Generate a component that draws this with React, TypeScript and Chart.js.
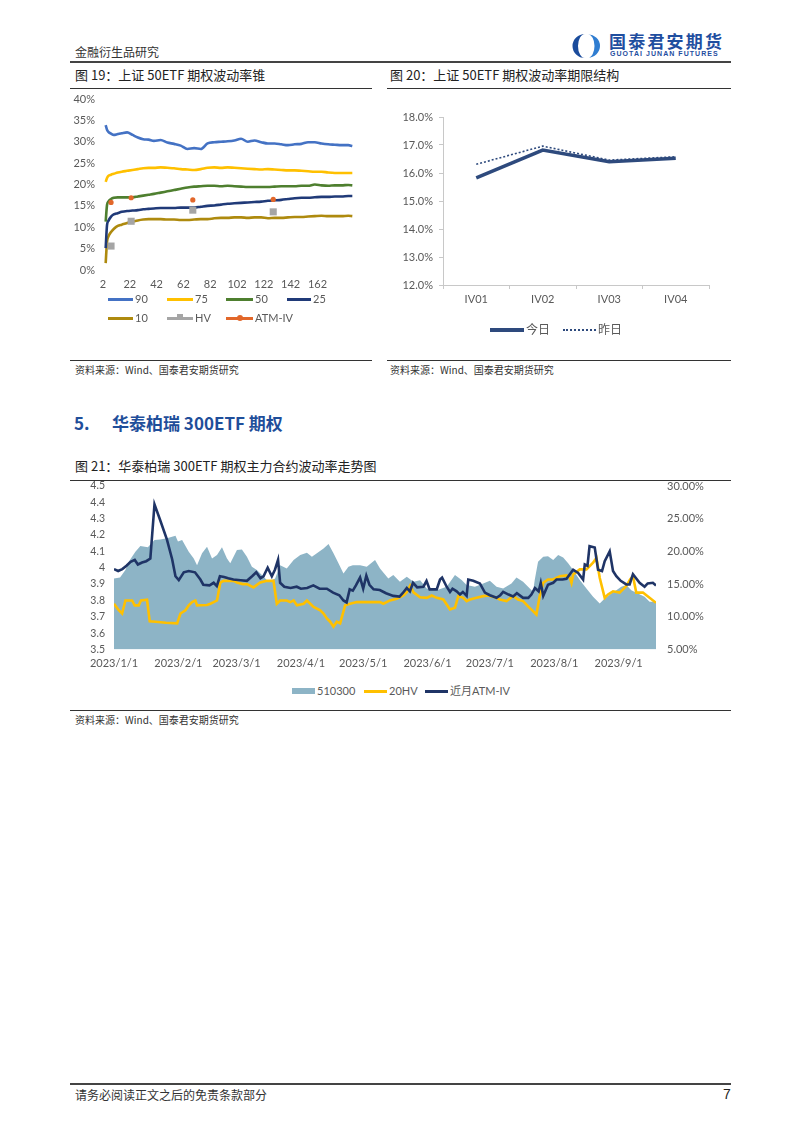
import React, { useEffect, useRef } from 'react';
import { Chart, registerables } from 'chart.js';

Chart.register(...registerables);

const CJK = '"Noto Sans CJK SC", "Noto Sans", sans-serif';
const TICK_FONT = 'Lato, "Noto Sans CJK SC", sans-serif';
const TICK_COLOR = '#595959';

// ---------- Figure 19: volatility cone ----------
const coneTicks = [2, 22, 42, 62, 82, 102, 122, 142, 162];
const coneDays = [4, 5, 6, 8, 10, 13, 16, 20, 24, 28, 32, 36, 40, 45, 50, 55, 60, 65, 70, 75, 80, 85, 90, 95, 100, 105, 110, 115, 120, 125, 130, 135, 140, 145, 150, 155, 160, 165, 170, 175, 180, 185, 188];
const cone90 = [33.9, 32.8, 32.3, 31.9, 31.6, 31.8, 32.0, 32.2, 31.6, 31.0, 30.6, 30.5, 30.2, 30.4, 29.8, 29.5, 29.1, 28.3, 28.5, 28.3, 29.6, 29.9, 30.0, 30.1, 30.3, 30.7, 30.0, 30.3, 29.9, 29.6, 29.6, 29.4, 29.2, 29.4, 29.5, 29.9, 29.9, 29.6, 29.4, 29.3, 29.2, 29.2, 29.0];
const cone75 = [20.6, 21.5, 22.0, 22.3, 22.5, 22.8, 23.0, 23.2, 23.4, 23.6, 23.8, 23.9, 23.9, 24.0, 23.9, 23.8, 23.6, 23.5, 23.4, 23.6, 23.9, 24.0, 23.9, 24.0, 23.9, 23.8, 23.7, 23.6, 23.5, 23.6, 23.5, 23.4, 23.3, 23.3, 23.2, 23.1, 23.0, 23.0, 22.8, 22.7, 22.7, 22.7, 22.7];
const cone50 = [11.3, 15.2, 16.0, 16.6, 16.9, 17.0, 17.0, 17.0, 17.0, 17.2, 17.4, 17.6, 17.8, 18.1, 18.4, 18.7, 19.0, 19.3, 19.5, 19.6, 19.7, 19.7, 19.6, 19.7, 19.6, 19.5, 19.4, 19.4, 19.4, 19.4, 19.5, 19.6, 19.6, 19.6, 19.7, 19.7, 20.0, 19.8, 19.7, 19.8, 19.8, 19.9, 19.8];
const cone25 = [5.1, 10.5, 11.5, 12.5, 13.0, 13.3, 13.6, 13.8, 13.9, 14.0, 14.2, 14.3, 14.4, 14.5, 14.5, 14.5, 14.6, 14.6, 14.6, 14.8, 15.0, 15.1, 15.3, 15.5, 15.6, 15.7, 15.8, 15.9, 16.0, 16.2, 16.3, 16.4, 16.6, 16.8, 16.9, 16.9, 17.0, 17.1, 17.1, 17.2, 17.2, 17.3, 17.3];
const cone10 = [1.6, 6.6, 7.8, 8.9, 9.6, 10.3, 10.6, 11.0, 11.3, 11.6, 11.8, 11.9, 11.9, 11.9, 11.8, 11.8, 11.7, 11.7, 11.8, 11.9, 11.9, 12.1, 12.2, 12.2, 12.3, 12.3, 12.2, 12.3, 12.3, 12.1, 12.2, 12.2, 12.3, 12.4, 12.4, 12.5, 12.6, 12.7, 12.6, 12.6, 12.6, 12.7, 12.6];
const markDays = [8, 23, 69, 129];
const hvMarks = [5.6, 11.4, 14.0, 13.6];
const atmMarks = [15.8, 16.9, 16.4, 16.5];

// ---------- Figure 20: term structure ----------
const termLabels = ['IV01', 'IV02', 'IV03', 'IV04'];
const termToday = [15.83, 16.82, 16.4, 16.53];
const termYesterday = [16.31, 16.96, 16.46, 16.58];

// ---------- Figure 21: 300ETF volatility trend ----------
const monthTickDays = [0, 31, 59, 90, 120, 151, 181, 212, 243];
const monthTickLabels = ['2023/1/1', '2023/2/1', '2023/3/1', '2023/4/1', '2023/5/1', '2023/6/1', '2023/7/1', '2023/8/1', '2023/9/1'];

const priceDays = [
  0, 2.9, 5.5, 7.1, 10.3, 12.7, 16.3, 19.5, 22.3, 25.5,
  29.6, 30.8, 32.8, 36, 38.4, 40, 42.4, 44.8, 47.2, 49.6,
  52, 54.4, 56, 59.2, 61.6, 64, 66.4, 68.8, 71.2, 74.4,
  77.6, 80, 83.2, 86.5, 89.7, 92.9, 95.3, 97.7, 100.9, 103.3,
  105.7, 108.1, 110.5, 112.9, 115, 118.5, 121.7, 125.7, 128.1, 132.1,
  134.5, 137.7, 141, 144.2, 147.4, 150.6, 155.4, 160.2, 164.2, 167.4,
  169.8, 173.8, 177.8, 181, 184.2, 187.4, 191.4, 193.8, 197, 199.4,
  201.8, 202.6, 204.2, 206.7, 209, 211.5, 213.9, 216.3, 218.7, 221.1,
  224.3, 227.5, 230.7, 233.9, 236.3, 239.5, 241.9, 244.3, 246.7, 249.1,
  252.3, 255.5, 257.9, 261,
];
const priceVals = [
  3.935, 3.94, 3.986, 4.037, 4.098, 4.133, 4.125, 4.169, 4.173, 4.18,
  4.196, 4.16, 4.17, 4.098, 4.057, 4.016, 4.088, 4.129, 4.057, 4.078,
  4.125, 4.057, 4.027, 4.108, 4.112, 4.067, 4.006, 3.986, 3.955, 3.914,
  3.935, 4.016, 3.996, 4.047, 4.078, 4.092, 4.067, 4.088, 4.118, 4.145,
  4.088, 4.027, 3.965, 4.006, 4.016, 4.016, 4.006, 4.047, 3.996, 3.935,
  3.955, 3.914, 3.945, 3.914, 3.924, 3.873, 3.863, 3.884, 3.955, 3.925,
  3.894, 3.884, 3.904, 3.92, 3.884, 3.873, 3.904, 3.94, 3.914, 3.884,
  3.853, 3.925, 4.037, 4.067, 4.071, 4.047, 4.078, 4.063, 4.027, 3.986,
  3.925, 3.873, 3.822, 3.781, 3.812, 3.843, 3.863, 3.884, 3.894, 3.863,
  3.843, 3.822, 3.792, 3.792,
];

const hv20Days = [
  0, 2.3, 3.9, 5.5, 8.7, 10, 11.9, 13, 15.9, 17.2,
  20, 25, 30.4, 32, 34.4, 36, 37.6, 39.2, 40, 44.8,
  46.4, 48, 49.6, 51.2, 52.8, 57.6, 59.2, 62, 64, 67.2,
  70.4, 73.6, 76.8, 78.4, 80, 83.2, 84.9, 86.5, 88.1, 91.3,
  92.9, 96.1, 99.3, 100.9, 102.5, 104.1, 105.7, 107.3, 108.9, 111.3,
  113.7, 116.9, 122, 128.1, 129.7, 132.9, 136.1, 139.4, 141, 142.6,
  144.2, 147.4, 150.6, 153, 155.4, 158.6, 161.8, 164.2, 165.8, 168.2,
  169.8, 171.4, 174.6, 177.8, 180.2, 183.4, 185.8, 189, 192.2, 194.6,
  197, 199.4, 201.8, 203.4, 205, 206.7, 209, 211.5, 214.7, 217.9,
  219.5, 220.3, 221.1, 224.3, 227.5, 230.7, 232.3, 233.9, 236.3, 237.9,
  240.3, 243.5, 246.7, 248.5, 249.9, 251.5, 254.7, 257.9, 261,
];
const hv20Vals = [
  12.0, 11.0, 10.5, 12.5, 12.5, 11.75, 11.75, 12.5, 12.6, 9.3,
  9.25, 9.1, 9.0, 10.5, 11.0, 11.75, 12.25, 12.5, 11.75, 11.8,
  12.0, 12.25, 12.5, 15.25, 15.5, 15.5, 15.25, 15.0, 15.0, 14.5,
  15.25, 15.5, 15.5, 12.0, 12.5, 12.5, 12.25, 12.5, 11.75, 12.0,
  12.5, 11.5, 11.0, 10.5, 9.75, 9.25, 8.5, 9.25, 9.0, 11.75,
  12.0, 12.25, 12.25, 12.25, 12.0, 12.5, 12.75, 13.25, 13.75, 14.75,
  13.75, 13.0, 12.9, 13.26, 12.9, 12.65, 11.12, 11.4, 13.16, 12.9,
  12.4, 12.65, 12.9, 13.16, 13.26, 13.0, 12.65, 12.4, 13.16, 12.65,
  12.4, 11.6, 10.87, 10.36, 13.16, 15.2, 15.7, 15.7, 16.2, 16.33,
  15.97, 15.2, 16.48, 17.25, 17.25, 18.27, 19.0, 15.97, 12.9, 13.42,
  13.9, 13.7, 14.7, 15.7, 16.2, 13.7, 13.7, 12.9, 12.14,
];

const ivDays = [
  0, 2, 4, 6, 8, 10, 11.5, 13.5, 15.5, 17.5,
  19.5, 22, 25.5, 28, 29.6, 31.2, 33.6, 36, 39, 41.6,
  43, 46, 48, 49.5, 51, 53, 55, 57.5, 61, 64,
  66.5, 68.5, 70.5, 72, 74, 76, 77.5, 79, 80, 82,
  85, 88, 90, 93, 96, 99, 102.5, 105.5, 108.5, 110.5,
  112, 113.5, 115, 116.5, 118.5, 120, 121.5, 123, 125, 128,
  131, 134.5, 137.5, 139, 141, 142.5, 144, 146, 149, 150.5,
  152, 155.4, 157, 158, 160.2, 161.8, 163, 165, 166.6, 168,
  169.8, 170.6, 173, 176.2, 178.6, 181, 184.2, 186, 187.4, 190,
  192.2, 194, 197, 199.5, 201, 202.7, 204.5, 205.5, 206.7, 209,
  211.5, 213.1, 216, 217.9, 221.1, 223.5, 225.9, 226.7, 228, 229,
  231.5, 233.1, 235, 236.3, 238.7, 240.3, 241.9, 244, 246.7, 248.3,
  249.9, 253.1, 255.5, 257, 259.5, 261,
];
const ivVals = [
  17.3, 17.0, 17.3, 17.8, 18.4, 18.7, 18.0, 18.3, 18.5, 18.9,
  27.2, 25.0, 21.8, 18.8, 16.2, 15.6, 16.8, 17.0, 16.8, 15.7,
  14.9, 14.8, 15.2, 14.7, 16.2, 16.1, 15.9, 15.7, 15.6, 15.5,
  16.2, 16.8, 15.9, 16.2, 17.5, 16.2, 17.2, 18.7, 15.2, 14.6,
  14.4, 14.6, 14.3, 14.4, 14.8, 14.3, 14.3, 13.7, 13.3, 12.5,
  12.2, 14.2, 14.0, 14.8, 16.0, 14.3, 16.3, 14.9, 14.2, 14.1,
  13.6, 13.2, 13.1, 13.6, 14.4, 13.9, 15.2, 14.5, 14.6, 15.5,
  14.2, 14.2, 15.7, 16.0, 14.6, 13.8, 14.3, 13.9, 13.4, 13.8,
  13.2, 15.7, 15.5, 15.1, 13.7, 13.3, 12.9, 13.3, 13.8, 13.4,
  13.1, 13.6, 12.9, 12.9, 13.4, 14.4, 13.9, 15.2, 13.2, 14.9,
  15.2, 15.7, 15.7, 15.8, 17.2, 16.7, 15.7, 18.0, 17.8, 20.8,
  20.6, 17.2, 17.0, 18.5, 20.0, 17.0, 16.2, 15.5, 14.95, 14.95,
  16.5, 15.2, 14.6, 15.1, 15.2, 14.8,
];

const pts = (xs: number[], ys: number[]) => xs.map((x, i) => ({ x, y: ys[i] }));
const tickFont = (size: number) => ({ size, family: TICK_FONT });

// fix a vertical axis width and stop Chart.js from adding label-overflow padding
const fixV = (w: number) => (s: any) => { s.width = w; s.paddingTop = 0; s.paddingBottom = 0; };
const fixH = (h: number) => (s: any) => { s.height = h; s.paddingLeft = 0; s.paddingRight = 0; };

function coneConfig(): any {
  const line = (label: string, vals: number[], color: string) => ({
    label,
    data: pts(coneDays, vals),
    borderColor: color,
    backgroundColor: color,
    borderWidth: 2.6,
    pointRadius: 0,
    cubicInterpolationMode: 'monotone',
    order: 2,
  });
  return {
    type: 'line',
    data: {
      datasets: [
        { label: 'ATM-IV', data: pts(markDays, atmMarks), showLine: false, pointRadius: 2.6, pointBackgroundColor: '#E2672A', pointBorderWidth: 0, order: 0 },
        { label: 'HV', data: pts(markDays, hvMarks), showLine: false, pointStyle: 'rect', pointRadius: 5, pointBackgroundColor: '#A5A5A5', pointBorderWidth: 0, order: 1 },
        line('90', cone90, '#4472C4'),
        line('75', cone75, '#FFC000'),
        line('50', cone50, '#4E7F2F'),
        line('25', cone25, '#203A78'),
        line('10', cone10, '#AE8A0E'),
      ],
    },
    options: {
      animation: false,
      responsive: false,
      events: [],
      layout: { padding: { top: 7, right: 5, bottom: 2, left: 0 } },
      plugins: { legend: { display: false }, tooltip: { enabled: false } },
      scales: {
        x: {
          type: 'linear',
          min: 2,
          max: 190,
          grid: { display: false, drawTicks: false },
          border: { display: false },
          afterBuildTicks: (s: any) => { s.ticks = coneTicks.map((v) => ({ value: v })); },
          afterFit: fixH(20),
          ticks: { color: TICK_COLOR, font: tickFont(11), padding: 8, maxRotation: 0, autoSkip: false },
        },
        y: {
          min: 0,
          max: 40,
          grid: { display: false, drawTicks: false },
          border: { display: false },
          afterFit: fixV(33),
          ticks: { stepSize: 5, autoSkip: false, color: TICK_COLOR, font: tickFont(11), padding: 8, callback: (v: any) => v + '%' },
        },
      },
    },
  };
}

function termConfig(): any {
  const axisColor = '#C8C8C8';
  return {
    type: 'line',
    data: {
      labels: termLabels,
      datasets: [
        { label: '今日', data: termToday, borderColor: '#2E4A7D', borderWidth: 3.5, pointRadius: 0, tension: 0 },
        { label: '昨日', data: termYesterday, borderColor: '#2E4A7D', borderWidth: 1.6, borderDash: [2, 2], pointRadius: 0, tension: 0 },
      ],
    },
    options: {
      animation: false,
      responsive: false,
      events: [],
      layout: { padding: { top: 25, right: 11, bottom: 2, left: 0 } },
      plugins: { legend: { display: false }, tooltip: { enabled: false } },
      scales: {
        x: {
          offset: true,
          grid: { display: true, offset: true, drawOnChartArea: false, drawTicks: true, tickLength: 4, color: axisColor },
          border: { display: true, color: axisColor },
          afterFit: fixH(25),
          ticks: { color: TICK_COLOR, font: tickFont(11), padding: 4, maxRotation: 0 },
        },
        y: {
          min: 12,
          max: 18,
          grid: { display: true, drawOnChartArea: false, drawTicks: true, tickLength: 4, color: axisColor },
          border: { display: true, color: axisColor },
          afterFit: fixV(53),
          ticks: { stepSize: 1, autoSkip: false, color: TICK_COLOR, font: tickFont(11), padding: 6, callback: (v: any) => Number(v).toFixed(1) + '%' },
        },
      },
    },
  };
}

function trendConfig(): any {
  return {
    type: 'line',
    data: {
      datasets: [
        { label: '20HV', data: pts(hv20Days, hv20Vals), yAxisID: 'y1', borderColor: '#FFC000', borderWidth: 2.6, pointRadius: 0, tension: 0, order: 1 },
        { label: '近月ATM-IV', data: pts(ivDays, ivVals), yAxisID: 'y1', borderColor: '#1F3466', borderWidth: 2.6, pointRadius: 0, tension: 0, order: 0 },
        { label: '510300', data: pts(priceDays, priceVals), yAxisID: 'y', borderColor: 'rgba(0,0,0,0)', borderWidth: 0, backgroundColor: '#8DB4C6', fill: 'start', pointRadius: 0, tension: 0, order: 5 },
      ],
    },
    options: {
      animation: false,
      responsive: false,
      events: [],
      layout: { padding: { top: 14, right: 0, bottom: 0, left: 0 } },
      plugins: { legend: { display: false }, tooltip: { enabled: false } },
      scales: {
        x: {
          type: 'linear',
          min: 0,
          max: 261,
          grid: { display: false, drawTicks: false },
          border: { display: false },
          afterBuildTicks: (s: any) => { s.ticks = monthTickDays.map((v) => ({ value: v })); },
          afterFit: fixH(32.5),
          ticks: { color: TICK_COLOR, font: tickFont(11), padding: 7, maxRotation: 0, autoSkip: false, callback: (_v: any, i: number) => monthTickLabels[i] },
        },
        y: {
          position: 'left',
          min: 3.5,
          max: 4.5,
          grid: { display: false, drawTicks: false },
          border: { display: false },
          afterFit: fixV(44),
          ticks: { stepSize: 0.1, autoSkip: false, color: TICK_COLOR, font: tickFont(10.5), padding: 9, callback: (v: any) => String(Number(Number(v).toFixed(1))) },
        },
        y1: {
          position: 'right',
          min: 5,
          max: 30,
          grid: { display: false, drawTicks: false },
          border: { display: false },
          afterFit: fixV(75),
          ticks: { stepSize: 5, autoSkip: false, color: TICK_COLOR, font: tickFont(11), padding: 11, callback: (v: any) => Number(v).toFixed(2) + '%' },
        },
      },
    },
  };
}

function ChartCanvas({ left, top, width, height, make }: { left: number; top: number; width: number; height: number; make: () => any }) {
  const ref = useRef<HTMLCanvasElement>(null);
  useEffect(() => {
    const chart = new Chart(ref.current as HTMLCanvasElement, make());
    return () => chart.destroy();
  }, []);
  return <canvas ref={ref} width={width} height={height} style={{ position: 'absolute', left, top, width, height }} />;
}

const abs = (left: number, top: number, extra: any = {}) => ({ position: 'absolute' as const, left, top, ...extra });

function Text({ x, y, size, children, color = '#222', bold = false, family = CJK, extra = {} }: any) {
  return (
    <div style={abs(x, y, { fontSize: size, color, fontWeight: bold ? 700 : 400, fontFamily: family, lineHeight: 1.3, whiteSpace: 'nowrap', ...extra })}>
      {children}
    </div>
  );
}

function Rule({ x, y, w, h = 1, color = '#333' }: any) {
  return <div style={abs(x, y, { width: w, height: h, background: color })} />;
}

function LegendItem({ x, y, w, color, label, thick = 3, dotted = false, marker, box = false, textColor = TICK_COLOR, size = 11 }: any) {
  return (
    <>
      {box ? (
        <div style={abs(x, y - 3, { width: w, height: 6, background: color })} />
      ) : dotted ? (
        <div style={abs(x, y - 1, { width: w, height: 0, borderTop: `2px dotted ${color}` })} />
      ) : (
        <div style={abs(x, y - thick / 2, { width: w, height: thick, background: color })} />
      )}
      {marker === 'square' && <div style={abs(x + w / 2 - 3, y - 4, { width: 6, height: 6, background: color })} />}
      {marker === 'circle' && <div style={abs(x + w / 2 - 3, y - 3, { width: 6, height: 6, borderRadius: 3, background: color })} />}
      <div style={abs(x + w + 2, y - 8, { height: 16, lineHeight: '16px', fontSize: size, color: textColor, fontFamily: TICK_FONT, whiteSpace: 'nowrap' })}>{label}</div>
    </>
  );
}

function Logo() {
  return (
    <>
      <svg style={abs(567, 33)} width={38} height={26} viewBox="0 0 38 26">
        <path d="M18 1 A12.5 12 0 1 0 18 25 A7 12 0 0 1 18 1 Z" fill="#1B4C9C" />
        <path d="M21 1.5 A12 11.5 0 1 1 21 24.5 A6.5 11.5 0 0 0 21 1.5 Z" fill="#2F7DD1" />
      </svg>
      <div style={abs(609, 31, { fontSize: 17, fontWeight: 700, color: '#1F4E9F', fontFamily: CJK, letterSpacing: 2.2, lineHeight: '20px', whiteSpace: 'nowrap' })}>国泰君安期货</div>
      <div style={abs(610, 50, { fontSize: 7, fontWeight: 700, color: '#1F4E9F', fontFamily: '"Liberation Sans", sans-serif', letterSpacing: 1.05, lineHeight: '8px', whiteSpace: 'nowrap' })}>GUOTAI JUNAN FUTURES</div>
    </>
  );
}

export default function App() {
  return (
    <div style={{ position: 'absolute', left: 0, top: 0, width: 802, height: 1134, background: '#fff', overflow: 'hidden', fontFamily: CJK }}>
      {/* header */}
      <Text x={75} y={44} size={12} color="#333">金融衍生品研究</Text>
      <Logo />
      <Rule x={70} y={61} w={661} h={2} color="#444" />

      {/* figure 19 & 20 titles */}
      <Text x={75} y={67} size={13}>图 19：上证 50ETF 期权波动率锥</Text>
      <Rule x={70} y={88} w={302} />
      <Text x={390} y={67} size={13}>图 20：上证 50ETF 期权波动率期限结构</Text>
      <Rule x={387} y={88} w={344} />

      <ChartCanvas left={70} top={92} width={290} height={200} make={coneConfig} />
      <LegendItem x={108} y={299} w={25} color="#4472C4" label="90" />
      <LegendItem x={167} y={299} w={26} color="#FFC000" label="75" />
      <LegendItem x={226} y={299} w={27} color="#4E7F2F" label="50" />
      <LegendItem x={287} y={299} w={24} color="#203A78" label="25" />
      <LegendItem x={108} y={318} w={25} color="#AE8A0E" label="10" />
      <LegendItem x={167} y={318} w={26} color="#A5A5A5" label="HV" marker="square" />
      <LegendItem x={226} y={318} w={27} color="#E2672A" label="ATM-IV" marker="circle" />

      <ChartCanvas left={390} top={92} width={330} height={220} make={termConfig} />
      <LegendItem x={490} y={330} w={34} color="#2E4A7D" label="今日" thick={3.5} size={12} />
      <LegendItem x={563} y={330} w={33} color="#2E4A7D" label="昨日" dotted size={12} />

      <Rule x={70} y={360} w={302} />
      <Rule x={387} y={360} w={344} />
      <Text x={75} y={363} size={10} color="#333">资料来源：Wind、国泰君安期货研究</Text>
      <Text x={390} y={363} size={10} color="#333">资料来源：Wind、国泰君安期货研究</Text>

      {/* section 5 */}
      <Text x={74} y={412} size={17} bold color="#1F4E9A">5.</Text>
      <Text x={112} y={412} size={17} bold color="#1F4E9A">华泰柏瑞 300ETF 期权</Text>

      <Text x={75} y={458} size={13}>图 21：华泰柏瑞 300ETF 期权主力合约波动率走势图</Text>
      <Rule x={70} y={480} w={661} />
      <ChartCanvas left={70} top={472} width={661} height={210} make={trendConfig} />
      <LegendItem x={292} y={691} w={23} color="#8DB4C6" label="510300" box />
      <LegendItem x={364} y={691} w={23} color="#FFC000" label="20HV" />
      <LegendItem x={425} y={691} w={23} color="#1F3466" label="近月ATM-IV" />
      <Rule x={70} y={710} w={661} />
      <Text x={75} y={713} size={10} color="#333">资料来源：Wind、国泰君安期货研究</Text>

      {/* footer */}
      <Rule x={70} y={1083} w={661} h={2} color="#444" />
      <Text x={75} y={1087} size={12} color="#333">请务必阅读正文之后的免责条款部分</Text>
      <Text x={723} y={1085} size={14} color="#222" family='"Liberation Sans", sans-serif'>7</Text>
    </div>
  );
}
